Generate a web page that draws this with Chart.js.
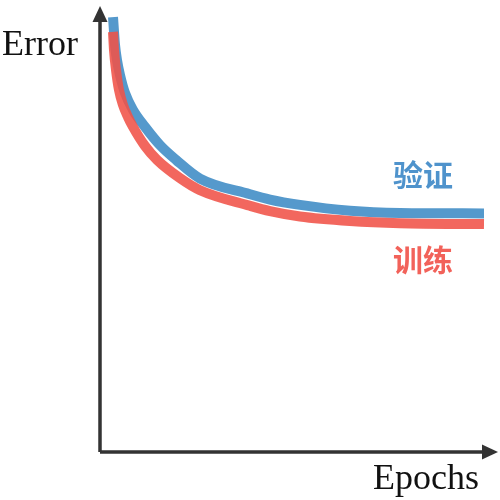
<!DOCTYPE html>
<html lang="zh">
<head>
  <meta charset="UTF-8" />
  <title>Error vs Epochs</title>
  <script src="https://cdn.jsdelivr.net/npm/chart.js"></script>
  <style>
    body { margin: 0; background: #fff; }
    #wrap { width: 500px; height: 500px; }
  </style>
</head>
<body>
  <div id="wrap"><canvas id="errChart" width="500" height="500"></canvas></div>
<script>
// 验证 (validation) curve
const valEpochs = [3.27, 3.77, 4.27, 5.03, 6.28, 8.29, 11.31, 15.08, 19.1, 25.13, 37.69, 42.71, 50.25, 62.81, 75.38, 96.48];
const valError  = [97.5, 91.3, 87.9, 84.5, 80.5, 76.7, 72.9, 68.8, 65.5, 61.3, 57.8, 56.6, 55.4, 54.1, 53.6, 53.5];

// 训练 (training) curve
const trainEpochs = [3.27, 3.52, 4.02, 4.77, 5.78, 7.04, 8.29, 11.31, 14.32, 20.1, 25.13, 37.69, 42.71, 50.25, 62.81, 75.38, 96.48];
const trainError  = [94.2, 90.1, 85.7, 81.2, 77.8, 75.1, 72.9, 68.6, 65.5, 61.4, 58.7, 55.2, 54.0, 52.8, 51.8, 51.3, 51.1];

const seriesNames = ['训练', '验证'];
const axisNames = ['Epochs', 'Error'];

const toPoints = (xs, ys) => xs.map((x, i) => ({x: x, y: ys[i]}));

const axesPlugin = {
  id: 'axesPlugin',
  beforeDatasetsDraw(chart) {
    const c = chart.ctx;
    const a = chart.chartArea;
    const x0 = chart.scales.x.getPixelForValue(0);
    const y0 = chart.scales.y.getPixelForValue(0);
    c.save();
    c.strokeStyle = '#333';
    c.fillStyle = '#333';
    c.lineWidth = 3.5;
    c.beginPath();
    c.moveTo(x0, y0);
    c.lineTo(x0, a.top + 14);
    c.moveTo(x0, y0);
    c.lineTo(a.right - 14, y0);
    c.stroke();
    // arrow heads
    c.beginPath();
    c.moveTo(x0, a.top);
    c.lineTo(x0 - 7.5, a.top + 16);
    c.lineTo(x0 + 7.5, a.top + 16);
    c.closePath();
    c.fill();
    c.beginPath();
    c.moveTo(a.right, y0);
    c.lineTo(a.right - 16, y0 - 7.5);
    c.lineTo(a.right - 16, y0 + 7.5);
    c.closePath();
    c.fill();
    c.restore();
  },
  afterDraw(chart) {
    const c = chart.ctx;
    c.save();
    c.fillStyle = '#111';
    c.font = '36px "Liberation Serif", serif';
    c.textBaseline = 'alphabetic';
    c.textAlign = 'left';
    c.fillText(axisNames[1], 2, 55);
    c.textAlign = 'right';
    c.fillText(axisNames[0], 479, 489);

    c.font = 'bold 30px "Noto Sans CJK SC", sans-serif';
    c.textAlign = 'center';
    c.textBaseline = 'middle';
    c.fillStyle = '#4f93cc';
    c.fillText(seriesNames[1], 423, 175);
    c.fillStyle = '#f2625a';
    c.fillText(seriesNames[0], 423, 260);
    c.restore();
  }
};

const chart = new Chart(document.getElementById('errChart'), {
  type: 'line',
  data: {
    datasets: [
      {
        label: seriesNames[0],
        data: toPoints(trainEpochs, trainError),
        borderColor: 'rgba(240, 82, 72, 0.88)',
        order: 0
      },
      {
        label: seriesNames[1],
        data: toPoints(valEpochs, valError),
        borderColor: 'rgb(85, 153, 204)',
        order: 1
      }
    ]
  },
  options: {
    responsive: false,
    animation: false,
    devicePixelRatio: 1,
    layout: { padding: { left: 100, right: 2, top: 6, bottom: 48 } },
    elements: {
      point: { radius: 0 },
      line: {
        borderWidth: 10,
        borderCapStyle: 'butt',
        borderJoinStyle: 'round',
        cubicInterpolationMode: 'monotone',
        fill: false
      }
    },
    datasets: { line: { clip: false } },
    scales: {
      x: { type: 'linear', min: 0, max: 100, display: false },
      y: { min: 0, max: 100, display: false }
    },
    plugins: {
      legend: { display: false },
      tooltip: { enabled: false }
    }
  },
  plugins: [axesPlugin]
});
</script>
</body>
</html>
